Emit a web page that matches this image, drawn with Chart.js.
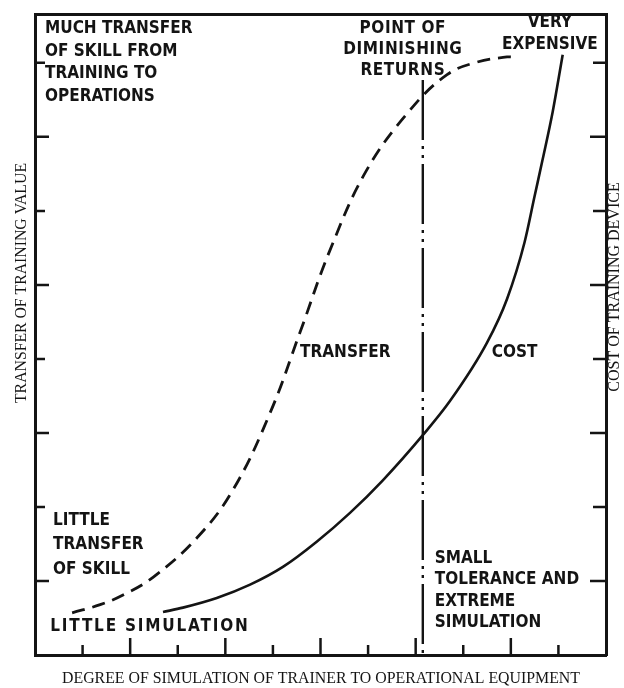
<!DOCTYPE html>
<html>
<head>
<meta charset="utf-8">
<script src="https://cdn.jsdelivr.net/npm/chart.js@4.4.0/dist/chart.umd.min.js"></script>
<style>
  html, body { margin: 0; padding: 0; background: #fff; }
  #wrap { width: 624px; height: 688px; }
</style>
</head>
<body>
<div id="wrap"><canvas id="chart" width="624" height="688"></canvas></div>
<script>
// transfer of training value vs cost of training device (redrawn from a scanned figure)

// transfer curve (dashed)
const transferX = [0.78, 1.37, 1.85, 2.48, 3.40, 4.16, 4.94, 5.57, 6.20, 6.97, 7.88, 8.66, 9.29, 9.92, 10.02];
const transferY = [0.57, 0.68, 0.81, 1.05, 1.58, 2.23, 3.27, 4.36, 5.47, 6.55, 7.36, 7.84, 8.01, 8.08, 8.08];

// cost curve (solid)
const costX = [2.69, 3.11, 3.82, 4.52, 5.21, 5.92, 6.62, 7.31, 8.15, 8.72, 9.50, 9.92, 10.29, 10.50, 10.67, 10.88, 11.09];
const costY = [0.58, 0.64, 0.77, 0.95, 1.19, 1.53, 1.92, 2.36, 2.97, 3.43, 4.22, 4.81, 5.58, 6.20, 6.70, 7.34, 8.11];

// point of diminishing returns marker
const diminishingX = [8.15, 8.15];
const diminishingY = [7.77, 0];

const xTickValues = [1, 2, 3, 4, 5, 6, 7, 8, 9, 10, 11];
const yTickValues = [1, 2, 3, 4, 5, 6, 7, 8];
const xMax = 12;
const yMax = 8.66;

const xTitle = "DEGREE OF SIMULATION OF TRAINER TO OPERATIONAL EQUIPMENT";
const yTitle = "TRANSFER OF TRAINING VALUE";
const y2Title = "COST OF TRAINING DEVICE";

// annotation texts, anchored in data units
const notes = [
  { lines: ["MUCH TRANSFER", "OF SKILL FROM", "TRAINING TO", "OPERATIONS"], x: 0.21, y: 8.46, align: "left", lh: 22.5 },
  { lines: ["POINT OF", "DIMINISHING", "RETURNS"], x: 7.73, y: 8.46, align: "center", lh: 21, sp: 0.6 },
  { lines: ["VERY", "EXPENSIVE"], x: 10.82, y: 8.55, align: "center", lh: 22 },
  { lines: ["TRANSFER"], x: 5.57, y: 4.09, align: "left", lh: 20 },
  { lines: ["COST"], x: 9.60, y: 4.09, align: "left", lh: 20 },
  { lines: ["LITTLE", "TRANSFER", "OF SKILL"], x: 0.38, y: 1.82, align: "left", lh: 24.5 },
  { lines: ["LITTLE SIMULATION"], x: 0.32, y: 0.38, align: "left", lh: 20, sp: 1.8 },
  { lines: ["SMALL", "TOLERANCE AND", "EXTREME", "SIMULATION"], x: 8.40, y: 1.30, align: "left", lh: 21.3 }
];

const INK = "#141414";

function toPoints(xs, ys) {
  return xs.map((x, i) => ({ x, y: ys[i] }));
}

const tickAndTextPlugin = {
  id: "tickAndText",
  afterDraw(chart) {
    const ctx = chart.ctx;
    const area = chart.chartArea;
    const xs = chart.scales.x;
    const ys = chart.scales.y;
    ctx.save();
    ctx.strokeStyle = INK;
    ctx.lineWidth = 2.5;
    ctx.lineCap = "butt";

    // inward tick marks
    xTickValues.forEach((v, i) => {
      const px = xs.getPixelForValue(v);
      const len = i % 2 === 0 ? 10 : 17;
      ctx.beginPath();
      ctx.moveTo(px, area.bottom);
      ctx.lineTo(px, area.bottom - len);
      ctx.stroke();
    });
    yTickValues.forEach((v, i) => {
      const py = ys.getPixelForValue(v);
      const lenL = i % 2 === 0 ? 14 : 10;
      const lenR = i % 2 === 0 ? 16 : 13;
      ctx.beginPath();
      ctx.moveTo(area.left, py);
      ctx.lineTo(area.left + lenL, py);
      ctx.moveTo(area.right, py);
      ctx.lineTo(area.right - lenR, py);
      ctx.stroke();
    });

    // lettering
    ctx.fillStyle = INK;
    ctx.textBaseline = "middle";
    ctx.font = "bold 17px 'DejaVu Sans Condensed', 'DejaVu Sans', sans-serif";
    notes.forEach(n => {
      ctx.textAlign = n.align;
      ctx.letterSpacing = (n.sp || 0) + "px";
      const px = xs.getPixelForValue(n.x);
      const py = ys.getPixelForValue(n.y);
      n.lines.forEach((line, k) => {
        ctx.fillText(line, px, py + k * n.lh);
      });
    });
    ctx.letterSpacing = "0px";

    // axis titles
    ctx.font = "16px 'Liberation Serif', 'DejaVu Serif', serif";
    ctx.textAlign = "center";
    ctx.fillText(xTitle, 321, area.bottom + 24, 518);

    ctx.save();
    ctx.translate(area.left - 13, 283);
    ctx.rotate(-Math.PI / 2);
    ctx.fillText(yTitle, 0, 0, 240);
    ctx.restore();

    ctx.save();
    ctx.translate(area.right + 9, 287);
    ctx.rotate(-Math.PI / 2);
    ctx.fillText(y2Title, 0, 0, 217);
    ctx.restore();

    ctx.restore();
  }
};

const axisBorder = { display: true, width: 3, color: INK };
const hiddenAxis = (pos, max) => ({
  type: "linear",
  position: pos,
  min: 0,
  max: max,
  grid: { display: false, drawTicks: false },
  ticks: { display: false },
  border: axisBorder
});

new Chart(document.getElementById("chart"), {
  type: "scatter",
  data: {
    datasets: [
      {
        label: "Transfer",
        data: toPoints(transferX, transferY),
        showLine: true,
        borderColor: INK,
        borderWidth: 2.8,
        borderDash: [13, 8],
        pointRadius: 0,
        tension: 0.4
      },
      {
        label: "Cost",
        data: toPoints(costX, costY),
        showLine: true,
        borderColor: INK,
        borderWidth: 2.6,
        pointRadius: 0,
        cubicInterpolationMode: "monotone"
      },
      {
        label: "Point of diminishing returns",
        data: toPoints(diminishingX, diminishingY),
        showLine: true,
        borderColor: INK,
        borderWidth: 2.4,
        borderDash: [60, 6, 3, 6, 3, 6],
        pointRadius: 0
      }
    ]
  },
  options: {
    responsive: false,
    animation: false,
    layout: { padding: { left: 35, right: 18, top: 14, bottom: 33 } },
    plugins: {
      legend: { display: false },
      tooltip: { enabled: false }
    },
    scales: {
      x: hiddenAxis("bottom", xMax),
      x2: hiddenAxis("top", xMax),
      y: hiddenAxis("left", yMax),
      y2: hiddenAxis("right", yMax)
    }
  },
  plugins: [tickAndTextPlugin]
});
</script>
</body>
</html>
